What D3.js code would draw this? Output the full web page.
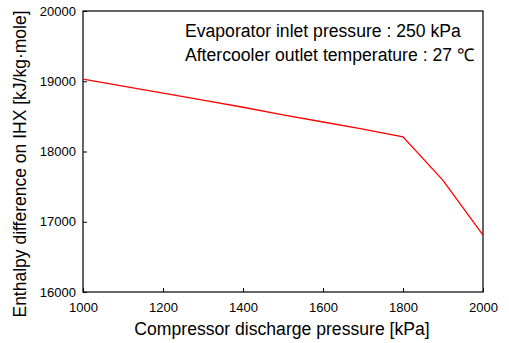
<!DOCTYPE html>
<html><head><meta charset="utf-8">
<script src="https://cdn.jsdelivr.net/npm/d3@7"></script>
<style>body{margin:0;background:#fff}svg{display:block}text{font-family:Arial,"Liberation Sans",sans-serif}</style>
</head><body>
<script>
const pressure = [1000, 1100, 1200, 1300, 1400, 1500, 1600, 1700, 1800, 1900, 2000];
const enthalpy = [19030, 18930, 18830, 18730, 18630, 18520, 18420, 18320, 18210, 17590, 16810];
const xTicks = [1000, 1200, 1400, 1600, 1800, 2000];
const yTicks = [16000, 17000, 18000, 19000, 20000];
const notes = ["Evaporator inlet pressure : 250 kPa", "Aftercooler outlet temperature : 27 \u2103"];

const W = 509, H = 343;
const m = {l: 83, r: 26, t: 11, b: 51};
const svg = d3.select("body").append("svg").attr("width", W).attr("height", H);
const x = d3.scaleLinear().domain([1000, 2000]).range([m.l, W - m.r]);
const y = d3.scaleLinear().domain([16000, 20000]).range([H - m.b, m.t]);

svg.append("rect").attr("x", m.l).attr("y", m.t).attr("width", W - m.r - m.l).attr("height", H - m.b - m.t)
  .attr("fill", "none").attr("stroke", "#000").attr("stroke-width", 1.2);

const xa = svg.append("g").attr("transform", `translate(0,${H - m.b})`)
  .call(d3.axisBottom(x).tickValues(xTicks).tickSizeInner(-4).tickSizeOuter(0).tickPadding(11).tickFormat(d3.format("d")));
const ya = svg.append("g").attr("transform", `translate(${m.l},0)`)
  .call(d3.axisLeft(y).tickValues(yTicks).tickSizeInner(-4).tickSizeOuter(0).tickPadding(7).tickFormat(d3.format("d")));
[xa, ya].forEach(a => {
  a.select(".domain").remove();
  a.selectAll("line").attr("stroke", "#000");
  a.selectAll("text").attr("font-size", 13).attr("fill", "#000").style("font-family", "Arial, 'Liberation Sans', sans-serif");
});

const line = d3.line().x((d, i) => x(pressure[i])).y(d => y(d));
svg.append("path").attr("d", line(enthalpy)).attr("fill", "none").attr("stroke", "#ff0000").attr("stroke-width", 1.3);

svg.append("text").attr("x", 282).attr("y", 335).attr("text-anchor", "middle")
  .attr("font-size", 17.6).text("Compressor discharge pressure [kPa]");
svg.append("text").attr("transform", `translate(26,164) rotate(-90)`).attr("text-anchor", "middle")
  .attr("font-size", 17.5).text("Enthalpy difference on IHX [kJ/kg\u00b7mole]");

svg.selectAll(".note").data(notes).join("text").attr("class", "note")
  .attr("x", 185).attr("y", (d, i) => 36.5 + i * 24.5).attr("font-size", 17.6).text(d => d);
</script>
</body></html>
